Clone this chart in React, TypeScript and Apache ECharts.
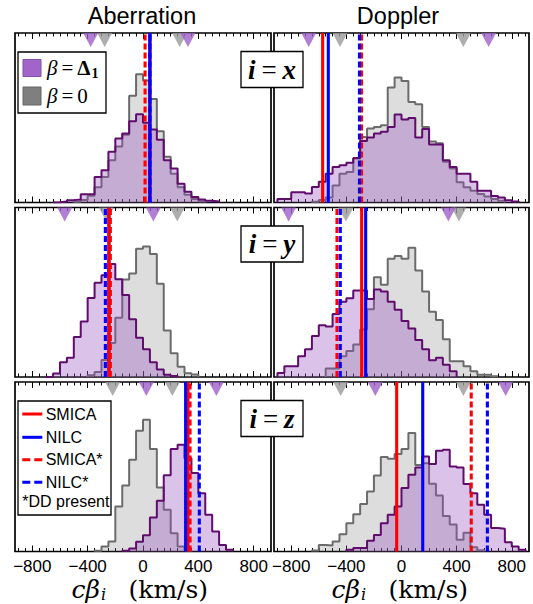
import React, { useEffect, useRef } from "react";
import * as echarts from "echarts";

const BIN_WIDTH = 50;
const X_MIN = -925;
const X_MAX = 925;
const Y_MAX = 100;

const TICK_LABELS = [-800, -400, 0, 400, 800];
const MINOR_TICKS = [
  -900, -850, -800, -750, -700, -650, -600, -550, -500, -450, -400, -350, -300, -250, -200, -150, -100, -50,
  0, 50, 100, 150, 200, 250, 300, 350, 400, 450, 500, 550, 600, 650, 700, 750, 800, 850, 900,
];

const COLUMN_TITLES = ["Aberration", "Doppler"];
const ROW_LABELS = ["x", "y", "z"];

// Histogram heights (percent of panel height), 50 km/s bins; *Start = left edge of first bin
const aberX_purpleStart = -650;
const aberX_purple = [0.2, 0.6, 1.4, 1.8, 4.9, 4.9, 15, 19, 30, 37.7, 40.7, 48, 52, 47, 43, 37, 25, 20, 11, 6.3, 3.3, 1.8, 1, 0.6];
const aberX_grayStart = -500;
const aberX_gray = [0.5, 1.5, 4, 9, 15, 25, 33, 40, 63, 75.6, 72, 61, 42, 27, 17, 9, 4.5, 2, 0.8];

const dopX_purpleStart = -900;
const dopX_purple = [2, 2, 6, 6, 5.3, 9.2, 12.2, 17, 21, 22, 23.4, 26.3, 36.3, 38.3, 40.7, 41.7, 44.6, 51.9, 48.9, 49.9, 38.3, 43.4, 34.2, 34.2, 25, 21, 17, 17, 12.2, 6.9, 6.9, 3.9, 2.9, 1.4, 0.6];
const dopX_grayStart = -650;
const dopX_gray = [0.5, 1.5, 3, 10, 17, 18, 26, 38.7, 43.6, 44.6, 45.6, 67.8, 73.7, 71.7, 59.3, 58, 44.6, 36, 35, 24, 20, 12, 9, 7, 5, 3.5, 2, 1];

const aberY_purpleStart = -700;
const aberY_purple = [0.2, 2, 8.7, 11.3, 23.6, 32.7, 46.6, 55.6, 60, 66.7, 57.7, 48.4, 34, 23.2, 16.3, 8.7, 4.4, 1.4, 0.6];
const aberY_grayStart = -400;
const aberY_gray = [1, 3, 10, 20, 35, 57.5, 61, 75.7, 77, 72.6, 55, 27.5, 14, 6, 2.2, 1.5];

const dopY_purpleStart = -900;
const dopY_purple = [2.4, 6.3, 6.3, 12.3, 16.3, 24.2, 30.6, 29.8, 37.1, 44.4, 46.4, 51, 51, 46, 51.6, 50.4, 44.4, 39.7, 33.1, 28.6, 21.8, 16.3, 9.9, 11.3, 7.3, 3.4];
const dopY_grayStart = -550;
const dopY_gray = [5, 5, 12.3, 15.3, 19.2, 28, 40, 58.9, 54.4, 69.8, 71.4, 69.8, 76.2, 62.9, 50.4, 38.5, 33.7, 22.2, 9.3, 9.3, 6.3, 3.4, 1.4, 1.4, 0.4];

const aberZ_purpleStart = -150;
const aberZ_purple = [0.5, 1.8, 5.7, 9.6, 20, 30, 45, 60.4, 63, 55, 46.3, 34.4, 21.7, 11.8, 3.9, 1];
const aberZ_grayStart = -350;
const aberZ_gray = [0.5, 3, 5.9, 26.6, 39, 54.1, 71.3, 77.8, 60.4, 37.8, 24.6, 10.8, 3, 0.8];

const dopZ_purpleStart = -400;
const dopZ_purple = [1, 2, 2, 6.3, 9.8, 16.7, 21.7, 26.6, 37.4, 45.3, 49.6, 56.1, 51.6, 59.4, 60, 50.2, 49.6, 39.8, 34.4, 27.6, 21.7, 13.8, 13.4, 5.5, 3, 1];
const dopZ_grayStart = -650;
const dopZ_gray = [0.6, 3.9, 3.5, 5.9, 10.2, 16.7, 22, 28, 35.4, 44.9, 55.7, 54.7, 57.5, 60.5, 69.9, 51, 52, 40, 33, 21, 16, 7, 11, 2.5, 0.8];

// Panel order: [x-Aberration, x-Doppler, y-Aberration, y-Doppler, z-Aberration, z-Doppler]
const smicaValues = [50, -572, -246, -289, 325, -35];
const nilcValues = [50, -531, -246, -260, 308, 154];
const smicaStarValues = [15, -290, -236, -468, 340, 506];
const nilcStarValues = [50, -305, -272, -444, 407, 623];

const purpleMarkers = [[-378, 325], [-673, 632], [-566, 75], [-819, 340], [24, 530], [-190, 756]];
const grayMarkers = [[-277, 265], [-446, 449], [-265, 248], [-403, 417], [-219, 212], [-441, 449]];

const PANELS = [
  { pS: aberX_purpleStart, p: aberX_purple, gS: aberX_grayStart, g: aberX_gray },
  { pS: dopX_purpleStart, p: dopX_purple, gS: dopX_grayStart, g: dopX_gray },
  { pS: aberY_purpleStart, p: aberY_purple, gS: aberY_grayStart, g: aberY_gray },
  { pS: dopY_purpleStart, p: dopY_purple, gS: dopY_grayStart, g: dopY_gray },
  { pS: aberZ_purpleStart, p: aberZ_purple, gS: aberZ_grayStart, g: aberZ_gray },
  { pS: dopZ_purpleStart, p: dopZ_purple, gS: dopZ_grayStart, g: dopZ_gray },
];

const COL_LEFT = [15, 274];
const COL_WIDTH = [256, 255];
const ROW_TOP = [33, 207.5, 382];
const ROW_HEIGHT = 169.5;

const SANS = "Liberation Sans, Arial, sans-serif";
const SERIF = "DejaVu Serif, serif";
const MATH = "Liberation Serif, Times New Roman, serif";

function stepPoints(start: number, heights: number[]) {
  const pts: number[][] = [[start, 0]];
  heights.forEach((h, i) => pts.push([start + i * BIN_WIDTH, h]));
  pts.push([start + heights.length * BIN_WIDTH, 0]);
  return pts;
}

const fmt = (v: number) => (v < 0 ? "\u2212" + Math.abs(v) : String(v));

function buildOption() {
  const grid: any[] = [];
  const xAxis: any[] = [];
  const yAxis: any[] = [];
  const series: any[] = [];

  PANELS.forEach((panel, p) => {
    const row = Math.floor(p / 2);
    const col = p % 2;
    grid.push({
      left: COL_LEFT[col],
      top: ROW_TOP[row],
      width: COL_WIDTH[col],
      height: ROW_HEIGHT,
      show: true,
      borderColor: "#000",
      borderWidth: 1.7,
      backgroundColor: "rgba(0,0,0,0)",
    });
    const tickLine = { lineStyle: { color: "#000", width: 1 } };
    ["bottom", "top"].forEach((pos) => {
      xAxis.push({
        gridIndex: p,
        type: "value",
        min: X_MIN,
        max: X_MAX,
        position: pos,
        axisLine: { show: false },
        splitLine: { show: false },
        axisTick: { show: true, inside: true, length: 6, customValues: TICK_LABELS, ...tickLine },
        axisLabel: {
          show: pos === "bottom" && row === 2,
          customValues: TICK_LABELS,
          formatter: fmt,
          margin: 6,
          fontSize: 17,
          color: "#000",
          fontFamily: SANS,
        },
      });
      xAxis.push({
        gridIndex: p,
        type: "value",
        min: X_MIN,
        max: X_MAX,
        position: pos,
        axisLine: { show: false },
        splitLine: { show: false },
        axisTick: { show: true, inside: true, length: 3.5, customValues: MINOR_TICKS, ...tickLine },
        axisLabel: { show: false },
      });
    });
    yAxis.push({ gridIndex: p, type: "value", min: 0, max: Y_MAX, show: false });

    const xi = p * 4;
    series.push({
      type: "line",
      xAxisIndex: xi,
      yAxisIndex: p,
      step: "end",
      symbol: "none",
      data: stepPoints(panel.gS, panel.g),
      lineStyle: { color: "#6b6b6b", width: 2 },
      areaStyle: { color: "rgba(128,128,128,0.38)" },
      z: 2,
      silent: true,
    });
    series.push({
      type: "line",
      xAxisIndex: xi,
      yAxisIndex: p,
      step: "end",
      symbol: "none",
      data: stepPoints(panel.pS, panel.p),
      lineStyle: { color: "#600c6c", width: 2 },
      areaStyle: { color: "rgba(150,80,190,0.5)" },
      z: 3,
      silent: true,
    });
    [
      { marks: grayMarkers[p], color: "#9a9a9a" },
      { marks: purpleMarkers[p], color: "#9d5fc9" },
    ].forEach((m) => {
      series.push({
        type: "scatter",
        xAxisIndex: xi,
        yAxisIndex: p,
        data: m.marks.map((v) => [v, Y_MAX]),
        symbol: "triangle",
        symbolRotate: 180,
        symbolSize: [15, 14],
        symbolOffset: [0, 7],
        itemStyle: { color: m.color },
        clip: false,
        z: 4,
        silent: true,
      });
    });
    const lines = [
      { v: smicaValues[p], color: "#ff0000", dash: "solid", z: 5 },
      { v: nilcValues[p], color: "#0000ff", dash: "solid", z: p === 2 ? 4.5 : 6 },
      { v: smicaStarValues[p], color: "#ff0000", dash: [6, 3], z: 7 },
      { v: nilcStarValues[p], color: "#0000ff", dash: [6, 3], z: 8 },
    ];
    lines.forEach((l) => {
      series.push({
        type: "line",
        xAxisIndex: xi,
        yAxisIndex: p,
        symbol: "none",
        data: [[l.v, 0], [l.v, Y_MAX]],
        lineStyle: { color: l.color, width: 3.1, type: l.dash },
        z: l.z,
        silent: true,
      });
    });
  });

  const graphic: any[] = [];
  const txt = (x: number, y: number, style: any, z = 100) => ({
    type: "text",
    x,
    y,
    z,
    silent: true,
    style: { fill: "#000", textAlign: "center", textVerticalAlign: "middle", align: "center", verticalAlign: "middle", ...style },
  });

  // Column titles
  graphic.push(txt(142, 15.5, { text: COLUMN_TITLES[0], fontSize: 23.5, fontFamily: SANS }));
  graphic.push(txt(398, 15.5, { text: COLUMN_TITLES[1], fontSize: 23.5, fontFamily: SANS }));

  // Row label boxes
  ROW_LABELS.forEach((lab, r) => {
    graphic.push({
      type: "group",
      x: 241,
      y: ROW_TOP[r] + 18.5,
      z: 100,
      children: [
        { type: "rect", z: 100, shape: { x: 0, y: 0, width: 62, height: 36 }, style: { fill: "#fff", stroke: "#000", lineWidth: 1.3 } },
        {
          type: "text",
          z: 101,
          x: 31,
          y: 18,
          style: {
            text: "{m|i}{e|=}{m|" + lab + "}",
            align: "center",
            verticalAlign: "middle",
            textAlign: "center",
            textVerticalAlign: "middle",
            rich: {
              m: { fontFamily: MATH, fontStyle: "italic", fontWeight: "bold", fontSize: 27, fill: "#000" },
              e: { fontFamily: MATH, fontSize: 27, fill: "#000", padding: [0, 6, 0, 6] },
            },
          },
        },
      ],
    });
  });

  // Legend 1 (histograms)
  graphic.push({
    type: "group",
    x: 18,
    y: 52,
    z: 100,
    children: [
      { type: "rect", z: 100, shape: { x: 0, y: 0, width: 88, height: 61 }, style: { fill: "#fff", stroke: "#000", lineWidth: 1.3 } },
      { type: "rect", z: 101, shape: { x: 5, y: 7.5, width: 18, height: 17 }, style: { fill: "#a165c9", stroke: "#8450ab", lineWidth: 1 } },
      { type: "rect", z: 101, shape: { x: 5, y: 35, width: 18, height: 18 }, style: { fill: "#7f7f7f", stroke: "#666", lineWidth: 1 } },
      {
        type: "text",
        z: 101,
        x: 29,
        y: 16,
        style: {
          text: "{g|β}{n|=}{b|Δ}{s|1}",
          align: "left",
          verticalAlign: "middle",
          textAlign: "left",
          textVerticalAlign: "middle",
          rich: {
            g: { fontFamily: MATH, fontStyle: "italic", fontSize: 21, fill: "#000" },
            n: { fontFamily: MATH, fontSize: 21, fill: "#000", padding: [0, 4, 0, 4] },
            b: { fontFamily: MATH, fontWeight: "bold", fontSize: 21, fill: "#000" },
            s: { fontFamily: MATH, fontWeight: "bold", fontSize: 14, fill: "#000", padding: [10, 0, 0, 1] },
          },
        },
      },
      {
        type: "text",
        z: 101,
        x: 29,
        y: 44,
        style: {
          text: "{g|β}{n|=}{d|0}",
          align: "left",
          verticalAlign: "middle",
          textAlign: "left",
          textVerticalAlign: "middle",
          rich: {
            g: { fontFamily: MATH, fontStyle: "italic", fontSize: 21, fill: "#000" },
            n: { fontFamily: MATH, fontSize: 21, fill: "#000", padding: [0, 4, 0, 4] },
            d: { fontFamily: MATH, fontSize: 21, fill: "#000" },
          },
        },
      },
    ],
  });

  // Legend 2 (lines)
  const legendLines = [
    { name: "SMICA", color: "#ff0000", dash: null },
    { name: "NILC", color: "#0000ff", dash: null },
    { name: "SMICA*", color: "#ff0000", dash: [8, 4] },
    { name: "NILC*", color: "#0000ff", dash: [8, 4] },
  ];
  const legendYs = [13, 36.3, 58.7, 81.3];
  const l2Children: any[] = [
    { type: "rect", z: 100, shape: { x: 0, y: 0, width: 93, height: 114 }, style: { fill: "#fff", stroke: "#000", lineWidth: 1.3 } },
  ];
  legendLines.forEach((l, i) => {
    l2Children.push({
      type: "line",
      z: 101,
      shape: { x1: 4.3, y1: legendYs[i], x2: 24.3, y2: legendYs[i] },
      style: { stroke: l.color, lineWidth: 3, lineDash: l.dash || undefined },
    });
    l2Children.push({
      type: "text",
      z: 101,
      x: 27.7,
      y: legendYs[i],
      style: { text: l.name, fontSize: 16, fontFamily: SANS, fill: "#000", align: "left", verticalAlign: "middle", textAlign: "left", textVerticalAlign: "middle" },
    });
  });
  l2Children.push({
    type: "text",
    z: 101,
    x: 4.3,
    y: 100.5,
    style: { text: "*DD present", fontSize: 16, fontFamily: SANS, fill: "#000", align: "left", verticalAlign: "middle", textAlign: "left", textVerticalAlign: "middle" },
  });
  graphic.push({ type: "group", x: 18, y: 401, z: 100, children: l2Children });

  // Axis titles
  [0, 260].forEach((dx) => {
    graphic.push({
      type: "text", x: 100 + dx, y: 589, z: 100, silent: true,
      style: { text: "cβ", fontFamily: SERIF, fontStyle: "italic", fontSize: 25, fill: "#000", align: "right", verticalAlign: "middle", textAlign: "right", textVerticalAlign: "middle" },
    });
    graphic.push({
      type: "text", x: 101 + dx, y: 594, z: 100, silent: true,
      style: { text: "i", fontFamily: SERIF, fontStyle: "italic", fontSize: 16, fill: "#000", align: "left", verticalAlign: "middle", textAlign: "left", textVerticalAlign: "middle" },
    });
    graphic.push({
      type: "text", x: 128.5 + dx, y: 589, z: 100, silent: true,
      style: { text: "(km/s)", fontFamily: SERIF, fontSize: 25, fill: "#000", align: "left", verticalAlign: "middle", textAlign: "left", textVerticalAlign: "middle" },
    });
  });

  return {
    animation: false,
    backgroundColor: "#fff",
    grid,
    xAxis,
    yAxis,
    series,
    graphic: { elements: graphic },
  };
}

export default function App() {
  const ref = useRef<HTMLDivElement>(null);
  useEffect(() => {
    if (!ref.current) return;
    const chart = echarts.init(ref.current, undefined, { renderer: "svg" });
    chart.setOption(buildOption() as any);
    return () => chart.dispose();
  }, []);
  return <div ref={ref} style={{ position: "fixed", left: 0, top: 0, width: 533, height: 604, background: "#fff" }} />;
}
